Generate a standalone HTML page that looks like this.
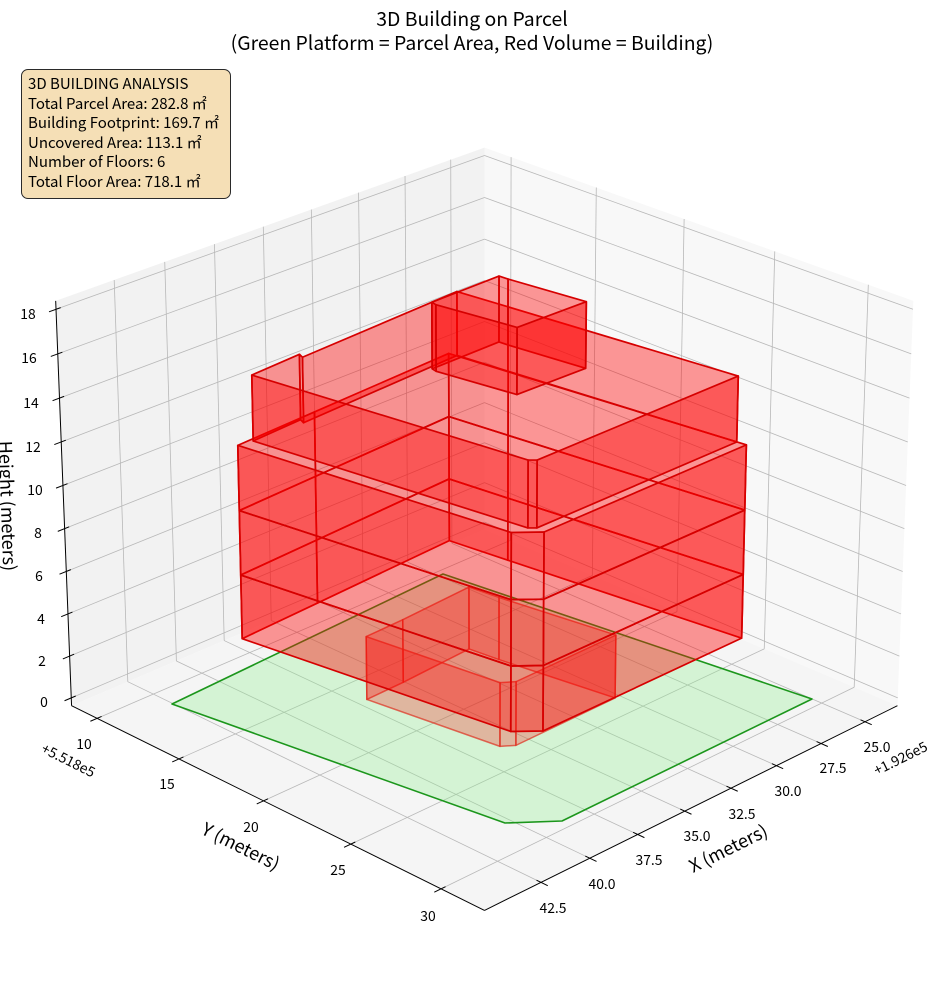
<!DOCTYPE html>
<html><head><meta charset="utf-8">
<style>
html,body{margin:0;padding:0;background:#fff;}
body{width:944px;height:992px;position:relative;overflow:hidden;font-family:"Noto Sans CJK JP","Liberation Sans",sans-serif;color:#000;}
svg{position:absolute;left:0;top:0;}
.t{position:absolute;white-space:nowrap;line-height:1;transform:translate(-50%,-56%);}
.tk{font-size:13.9px;}
.al{font-size:18px;}
.title{position:absolute;left:0;top:6px;width:944px;text-align:center;font-size:19.4px;line-height:23.5px;white-space:nowrap;}
.box{position:absolute;left:21px;top:69px;width:210px;height:130px;box-sizing:border-box;border:1px solid #2a2a2a;border-radius:7px;background:#f5dfb6;padding:4px 0 0 6px;font-size:15px;line-height:19.6px;white-space:nowrap;}
</style></head><body>
<svg width="944" height="992" viewBox="0 0 944 992" xmlns="http://www.w3.org/2000/svg">
<g id="panes"></g>
<g id="grid"></g>
<g id="axes"></g>
<polygon points="172,704 443,574 812,699 562,821 505,823" fill="rgb(144,238,144)" fill-opacity="0.32" stroke="#1c961c" stroke-width="1.6" stroke-linejoin="round"/>
<g id="bld"></g>
</svg>

<div class="title">3D Building on Parcel<br>(Green Platform = Parcel Area, Red Volume = Building)</div>

<div class="box">
<div>3D BUILDING ANALYSIS</div>
<div>Total Parcel Area: 282.8 ㎡</div>
<div>Building Footprint: 169.7 ㎡</div>
<div>Uncovered Area: 113.1 ㎡</div>
<div>Number of Floors: 6</div>
<div>Total Floor Area: 718.1 ㎡</div>
</div>

<!-- Z tick labels -->
<div class="t tk" style="left:28px;top:316px">18</div>
<div class="t tk" style="left:29px;top:360px">16</div>
<div class="t tk" style="left:31px;top:405px">14</div>
<div class="t tk" style="left:33px;top:449px">12</div>
<div class="t tk" style="left:35px;top:492px">10</div>
<div class="t tk" style="left:38px;top:535px">8</div>
<div class="t tk" style="left:39px;top:578px">6</div>
<div class="t tk" style="left:41px;top:621px">4</div>
<div class="t tk" style="left:42px;top:663px">2</div>
<div class="t tk" style="left:44px;top:704px">0</div>

<!-- Y tick labels -->
<div class="t tk" style="left:84px;top:746px">10</div>
<div class="t tk" style="left:167px;top:786px">15</div>
<div class="t tk" style="left:251px;top:829px">20</div>
<div class="t tk" style="left:338px;top:872px">25</div>
<div class="t tk" style="left:428px;top:918px">30</div>

<!-- X tick labels -->
<div class="t tk" style="left:877px;top:749px">25.0</div>
<div class="t tk" style="left:833px;top:770px">27.5</div>
<div class="t tk" style="left:788px;top:793px">30.0</div>
<div class="t tk" style="left:742px;top:816px">32.5</div>
<div class="t tk" style="left:697px;top:838px">35.0</div>
<div class="t tk" style="left:649px;top:862px">37.5</div>
<div class="t tk" style="left:602px;top:886px">40.0</div>
<div class="t tk" style="left:553px;top:910px">42.5</div>

<!-- offsets -->
<div class="t tk" style="left:68px;top:762px;transform:translate(-50%,-56%) rotate(26.4deg)">+5.518e5</div>
<div class="t tk" style="left:901px;top:760px;transform:translate(-50%,-56%) rotate(-26.4deg)">+1.926e5</div>

<!-- axis labels -->
<div class="t al" style="left:241px;top:847px;transform:translate(-50%,-56%) rotate(26.4deg)">Y (meters)</div>
<div class="t al" style="left:728px;top:849px;transform:translate(-50%,-56%) rotate(-26.4deg)">X (meters)</div>
<div class="t al" style="left:8px;top:507px;transform:translate(-50%,-56%) rotate(88deg)">Height (meters)</div>

<script>
(function(){
var D2R=Math.PI/180,E=25*D2R,sE=Math.sin(E),cE=Math.cos(E),S2=Math.SQRT2;
var K=5000,CX=484.5,CY=507.1,DIST=10,HX=0.595,HZ=0.4465;
var XV=[23.126,45.341],YV=[8.407,32.35],ZV=[-0.375,18.375];
function qx(x){return (x-(XV[0]+XV[1])/2)/(XV[1]-XV[0])*2*HX;}
function qy(y){return (y-(YV[0]+YV[1])/2)/(YV[1]-YV[0])*2*HX;}
function qz(z){return (z-(ZV[0]+ZV[1])/2)/(ZV[1]-ZV[0])*2*HZ;}
function P(X,Y,Z){var a=(X+Y)/S2,b=(Y-X)/S2,zw=cE*a+sE*Z,den=DIST-zw;return [CX+K*b/den,CY-K*(-sE*a+cE*Z)/den,zw];}
function inv(px,py,Z){var X=(px-CX)/K,Y=(CY-py)/K;var a=(Y*DIST-Z*(Y*sE+cE))/(Y*cE-sE);var b=X*(DIST-cE*a-sE*Z);return [(a-b)/S2,(a+b)/S2];}
function f(v){return v.toFixed(2);}
function pts(arr){return arr.map(function(p){return f(p[0])+','+f(p[1]);}).join(' ');}
function line(a,b,c,w){return '<line x1="'+f(a[0])+'" y1="'+f(a[1])+'" x2="'+f(b[0])+'" y2="'+f(b[1])+'" stroke="'+c+'" stroke-width="'+w+'"/>';}
var L=-HX,H=HX,ZL=-HZ,ZH=HZ;
var s='';
s+='<polygon points="'+pts([P(L,L,ZL),P(H,L,ZL),P(H,L,ZH),P(L,L,ZH)])+'" fill="#f2f2f2"/>';
s+='<polygon points="'+pts([P(L,L,ZL),P(L,H,ZL),P(L,H,ZH),P(L,L,ZH)])+'" fill="#f8f8f8"/>';
s+='<polygon points="'+pts([P(L,L,ZL),P(H,L,ZL),P(H,H,ZL),P(L,H,ZL)])+'" fill="#f5f5f5"/>';
document.getElementById('panes').innerHTML=s;
var GC='#b8b8b8',GW=0.8,g='';
var xt=[25,27.5,30,32.5,35,37.5,40,42.5],yt=[10,15,20,25,30],zt=[0,2,4,6,8,10,12,14,16,18];
xt.forEach(function(x){var X=qx(x);g+=line(P(X,L,ZL),P(X,H,ZL),GC,GW);g+=line(P(X,L,ZL),P(X,L,ZH),GC,GW);});
yt.forEach(function(y){var Y=qy(y);g+=line(P(L,Y,ZL),P(H,Y,ZL),GC,GW);g+=line(P(L,Y,ZL),P(L,Y,ZH),GC,GW);});
zt.forEach(function(z){var Z=qz(z);g+=line(P(L,L,Z),P(H,L,Z),GC,GW);g+=line(P(L,L,Z),P(L,H,Z),GC,GW);});
document.getElementById('grid').innerHTML=g;
var ax='',AC='#000',AW=1;
ax+=line(P(H,L,ZL),P(H,H,ZL),AC,AW);
ax+=line(P(L,H,ZL),P(H,H,ZL),AC,AW);
ax+=line(P(H,L,ZL),P(H,L,ZH),AC,AW);
var ti=0.012,to=0.018;
xt.forEach(function(x){var X=qx(x);ax+=line(P(X,H-ti,ZL),P(X,H+to,ZL),AC,AW);});
yt.forEach(function(y){var Y=qy(y);ax+=line(P(H-ti,Y,ZL),P(H+to,Y,ZL),AC,AW);});
zt.forEach(function(z){var Z=qz(z);ax+=line(P(H-ti,L,Z),P(H+to,L,Z),AC,AW);});
document.getElementById('axes').innerHTML=ax;

var defs=[
 {zb:0,zt:3,levels:[[0,3]],stroke:'rgb(222,45,30)',so:0.7,sw:1.5,fo:0.25,
  v:[[367,699,366,637],[403,682,403,620],[469,648,469,588],[499,659,499,598],[615,697,616,636],[516,745,516,682],[500,747,500,682]]},
 {zb:3,zt:12,levels:[[3,6],[6,9],[9,12]],stroke:'rgb(214,0,0)',so:1,sw:1.7,fo:0.4,
  v:[[242,638,238,446],[316,603,316,412],[449,540,449,354],[508,560,508,372],[742,638,746,445],[544,731,543,532],[512,732,510,532]]},
 {zb:12,zt:15,levels:[[12,15]],stroke:'rgb(214,0,0)',so:1,sw:1.7,fo:0.4,
  v:[[253,440,252,376],[300,420,300,354],[303,423,303,357],[457,355,457,292],[508,371,508,307],[737,442,738,376],[537,528,537,460],[528,528,528,460]]},
 {zb:15,zt:18,levels:[[15,18]],stroke:'rgb(214,0,0)',so:1,sw:1.7,fo:0.4,
  v:[[432,369,432,302],[499,342,499,276],[508,345,508,279],[586,368,586,302],[517,395,517,327],[436,371,436,305]]}
];
var faces=[];
defs.forEach(function(d){
 var zb=qz(d.zb),ztp=qz(d.zt);
 var fp=d.v.map(function(r){var p1=inv(r[0],r[1],zb),p2=inv(r[2],r[3],ztp);return [(p1[0]+p2[0])/2,(p1[1]+p2[1])/2];});
 d.levels.forEach(function(lv){
  var z0=qz(lv[0]),z1=qz(lv[1]),n=fp.length;
  var bot=fp.map(function(p){return [p[0],p[1],z0];}),top=fp.map(function(p){return [p[0],p[1],z1];});
  for(var i=0;i<n;i++){var j=(i+1)%n;
   var pl=[bot[i],bot[j],top[j],top[i]];
   var pr=pl.map(function(q){return P(q[0],q[1],q[2]);});
   var dep=0;pr.forEach(function(p){dep+=p[2];});dep/=pr.length;
   faces.push({pr:pr,dep:dep,d:d});
  }
 });
});
faces.sort(function(a,b){return a.dep-b.dep;});
var bs='';
faces.forEach(function(fc){
 var d=fc.d;
 bs+='<polygon points="'+pts(fc.pr)+'" fill="rgb(255,0,0)" fill-opacity="'+d.fo+'" stroke="'+d.stroke+'" stroke-opacity="'+d.so+'" stroke-width="'+d.sw+'" stroke-linejoin="round"/>';
});
document.getElementById('bld').innerHTML=bs;
})();
</script>
</body></html>
